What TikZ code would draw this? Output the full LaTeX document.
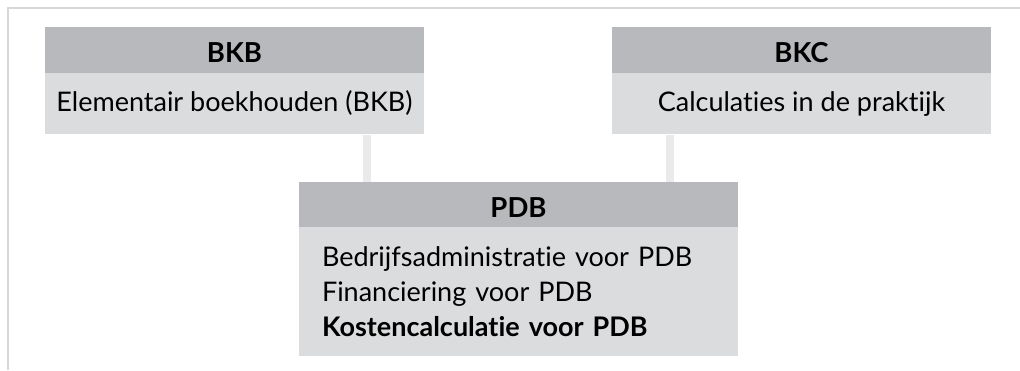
\documentclass[tikz,border=0pt]{standalone}
\usepackage{fontspec}
\setmainfont{Lato}[Ligatures={NoCommon}]
\usetikzlibrary{positioning}

\begin{document}
\begin{tikzpicture}[x=1pt,y=-1pt,
  head/.style={fill=headColor, minimum width=379pt, minimum height=46pt, inner sep=0pt,
    text height=25pt, text depth=0pt, font=\fontsize{27.5}{30}\selectfont\bfseries},
  body/.style={fill=bodyColor, minimum width=379pt, minimum height=61pt, inner sep=0pt,
    text height=20pt, text depth=5pt, font=\fontsize{27}{35}\selectfont},
  link/.style={draw=linkColor, line width=8pt}]
\definecolor{frameColor}{RGB}{216,216,216}
\definecolor{headColor}{RGB}{184,185,188}
\definecolor{bodyColor}{RGB}{219,220,222}
\definecolor{linkColor}{RGB}{234,234,236}

\path[use as bounding box,fill=white] (0,0) rectangle (1020,370);

% frame
\draw[frameColor, line width=2.5pt] (8,370) -- (8,8) -- (1020,8);

% upper blocks
\node[head] (bkbhead) at (234.5,50) {BKB};
\node[body, below=0pt of bkbhead] (bkbbody) {Elementair boekhouden (BKB)};

\node[head] (bkchead) at (801.5,50) {BKC};
\node[body, below=0pt of bkchead] (bkcbody) {Calculaties in de praktijk};

% lower block
\node[head, minimum width=439pt, minimum height=45pt] (pdbhead) at (518.5,204.5) {PDB};
\node[body, below=0pt of pdbhead, minimum width=439pt, minimum height=129pt,
  text width=393pt, text height=, text depth=, align=left] (pdbbody)
  {Bedrijfsadministratie voor PDB\\
   Financiering voor PDB\\
   \textbf{Kostencalculatie voor PDB}};

% links
\draw[link] ([xshift=132.5pt]bkbbody.south) -- ([xshift=132.5pt]bkbbody.south |- pdbhead.north);
\draw[link] ([xshift=-132pt]bkcbody.south) -- ([xshift=-132pt]bkcbody.south |- pdbhead.north);
\end{tikzpicture}
\end{document}
